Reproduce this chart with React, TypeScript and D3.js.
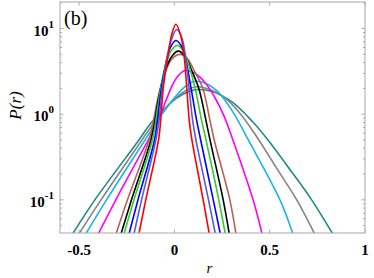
import { useMemo } from "react";
import * as d3 from "d3";

const W = 374;
const H = 278;
const M = { top: 2, left: 60, right: 9, bottom: 45 };

// r values and P(r) values, one pair of arrays per curve
const redR = [-0.186, -0.15, -0.083, -0.072, -0.058, -0.032, -0.014, 0.008, 0.032, 0.05, 0.065, 0.078, 0.092, 0.151, 0.183];
const redP = [0.04, 0.1, 0.5, 0.84, 2.04, 4.99, 8.51, 11.2, 8.51, 4.99, 2.04, 0.84, 0.5, 0.1, 0.04];
const slateR = [-0.212, -0.172, -0.097, -0.081, -0.065, -0.041, -0.018, 0.012, 0.04, 0.058, 0.077, 0.096, 0.113, 0.179, 0.215];
const slateP = [0.04, 0.1, 0.5, 0.84, 1.87, 4.4, 7.12, 9.73, 7.71, 4.76, 2.04, 0.84, 0.5, 0.1, 0.04];
const blueR = [-0.238, -0.191, -0.104, -0.089, -0.07, -0.044, -0.02, 0.008, 0.037, 0.061, 0.087, 0.117, 0.138, 0.204, 0.241];
const blueP = [0.04, 0.1, 0.5, 0.84, 1.87, 3.95, 6.06, 7.25, 6.22, 4.17, 2.04, 0.84, 0.5, 0.1, 0.04];
const greenR = [-0.264, -0.212, -0.115, -0.097, -0.076, -0.049, -0.018, 0.015, 0.048, 0.077, 0.108, 0.143, 0.166, 0.233, 0.267];
const greenP = [0.04, 0.1, 0.5, 0.84, 1.77, 3.55, 5.45, 6.35, 5.45, 3.65, 2.04, 0.84, 0.5, 0.1, 0.04];
const blackR = [-0.28, -0.225, -0.123, -0.102, -0.081, -0.049, -0.013, 0.02, 0.056, 0.092, 0.129, 0.166, 0.187, 0.256, 0.288];
const blackP = [0.04, 0.1, 0.5, 0.84, 1.63, 3.19, 4.76, 5.45, 4.76, 3.19, 1.97, 0.84, 0.5, 0.1, 0.04];
const brownR = [-0.306, -0.246, -0.133, -0.11, -0.086, -0.049, -0.013, 0.029, 0.066, 0.108, 0.15, 0.187, 0.209, 0.291, 0.323];
const brownP = [0.04, 0.1, 0.5, 0.84, 1.55, 3.02, 4.4, 4.99, 4.52, 3.1, 1.97, 0.84, 0.5, 0.1, 0.04];
const magentaR = [-0.399, -0.307, -0.137, -0.091, -0.049, -0.013, 0.019, 0.056, 0.105, 0.154, 0.208, 0.26, 0.307, 0.413, 0.46];
const magentaP = [0.04, 0.1, 0.5, 0.79, 1.35, 2.13, 2.79, 3.23, 3.02, 2.44, 1.63, 0.955, 0.5, 0.1, 0.04];
const cyanR = [-0.465, -0.356, -0.154, -0.102, -0.049, 0.008, 0.056, 0.103, 0.166, 0.234, 0.313, 0.388, 0.554, 0.622];
const cyanP = [0.04, 0.1, 0.5, 0.76, 1.12, 1.63, 2.1, 2.41, 2.28, 1.77, 1.01, 0.5, 0.1, 0.04];
const grayR = [-0.501, -0.385, -0.17, -0.112, -0.055, 0.008, 0.061, 0.108, 0.171, 0.271, 0.355, 0.439, 0.538, 0.642, 0.736];
const grayP = [0.04, 0.1, 0.5, 0.77, 1.11, 1.55, 1.89, 2.08, 2.0, 1.51, 0.955, 0.516, 0.231, 0.1, 0.04];
const tealR = [-0.534, -0.417, -0.186, -0.123, -0.06, 0.014, 0.077, 0.124, 0.197, 0.302, 0.412, 0.491, 0.607, 0.72, 0.831];
const tealP = [0.04, 0.1, 0.5, 0.79, 1.12, 1.55, 1.84, 1.94, 1.84, 1.39, 0.81, 0.5, 0.225, 0.1, 0.04];

const xTicks = [-0.5, 0, 0.5, 1];
const xTickLabels = ["-0.5", "0", "0.5", "1"];
const yTicks = [0.1, 1, 10];
const yTickExp = ["-1", "0", "1"];

// drawn from widest to narrowest so red ends on top
const series = [
  { r: tealR, p: tealP, color: "#1f8a8a" },
  { r: grayR, p: grayP, color: "#858585" },
  { r: cyanR, p: cyanP, color: "#1cb4e6" },
  { r: magentaR, p: magentaP, color: "#ff00ff" },
  { r: brownR, p: brownP, color: "#b5625a" },
  { r: blackR, p: blackP, color: "#000000" },
  { r: greenR, p: greenP, color: "#33cc33" },
  { r: blueR, p: blueP, color: "#0000ff" },
  { r: slateR, p: slateP, color: "#5a5ad2" },
  { r: redR, p: redP, color: "#ff0000" },
];

const AXIS = "#a8a8a8";
const SERIF = '"Liberation Serif", "Times New Roman", Times, Tinos, "DejaVu Serif", "Noto Serif", serif';

export default function App() {
  const x = useMemo(
    () => d3.scaleLinear().domain([-0.6, 1]).range([M.left, W - M.right]),
    []
  );
  const y = useMemo(
    () => d3.scaleLog().domain([0.041, 20.4]).range([H - M.bottom, M.top]),
    []
  );

  const line = d3
    .line<[number, number]>()
    .x((d) => x(d[0]))
    .y((d) => y(d[1]))
    .curve(d3.curveCatmullRom.alpha(0.5));

  const minorY = y.ticks().filter((t) => !yTicks.some((m) => Math.abs(m - t) < 1e-9));
  const x0 = M.left;
  const x1 = W - M.right;
  const y0 = M.top;
  const y1 = H - M.bottom;

  return (
    <svg
      width={W}
      height={H}
      style={{ position: "absolute", left: 0, top: 0, background: "#fff", fontFamily: SERIF }}
    >
      <defs>
        <clipPath id="plot-clip">
          <rect x={x0} y={y0} width={x1 - x0} height={y1 - y0} />
        </clipPath>
      </defs>
      <rect x={0} y={0} width={W} height={H} fill="#fff" />

      <g clipPath="url(#plot-clip)">
        {series.map((s, i) => (
          <path
            key={i}
            d={line(s.r.map((r, j) => [r, s.p[j]] as [number, number])) || ""}
            fill="none"
            stroke={s.color}
            strokeWidth={1.6}
            strokeLinejoin="round"
          />
        ))}
      </g>

      {/* frame */}
      <rect x={x0} y={y0} width={x1 - x0} height={y1 - y0} fill="none" stroke={AXIS} strokeWidth={1} />

      {/* x ticks */}
      {xTicks.map((t, i) => (
        <g key={"xt" + i}>
          <line x1={x(t)} x2={x(t)} y1={y1} y2={y1 - 3.5} stroke={AXIS} />
          <line x1={x(t)} x2={x(t)} y1={y0} y2={y0 + 3.5} stroke={AXIS} />
          <text x={x(t)} y={255} textAnchor="middle" fontWeight="bold" fontSize={15}>
            {xTickLabels[i]}
          </text>
        </g>
      ))}

      {/* y ticks */}
      {yTicks.map((t, i) => (
        <g key={"yt" + i}>
          <line x1={x0} x2={x0 + 3.5} y1={y(t)} y2={y(t)} stroke={AXIS} />
          <line x1={x1} x2={x1 - 3.5} y1={y(t)} y2={y(t)} stroke={AXIS} />
          <text x={54} y={y(t) + 7} textAnchor="end" fontWeight="bold" fontSize={15}>
            10
            <tspan dy={-8} fontSize={11}>
              {yTickExp[i]}
            </tspan>
          </text>
        </g>
      ))}
      {minorY.map((t, i) => (
        <g key={"ym" + i}>
          <line x1={x0} x2={x0 + 2} y1={y(t)} y2={y(t)} stroke={AXIS} />
          <line x1={x1} x2={x1 - 2} y1={y(t)} y2={y(t)} stroke={AXIS} />
        </g>
      ))}

      {/* labels */}
      <text x={64} y={25} fontSize={20}>
        (b)
      </text>
      <text
        transform={`translate(21, ${(y0 + y1) / 2 - 12}) rotate(-90)`}
        textAnchor="middle"
        fontStyle="italic"
        fontSize={17}
      >
        P(r)
      </text>
      <text x={(x0 + x1) / 2 - 3} y={273} textAnchor="middle" fontStyle="italic" fontSize={15}>
        r
      </text>
    </svg>
  );
}
